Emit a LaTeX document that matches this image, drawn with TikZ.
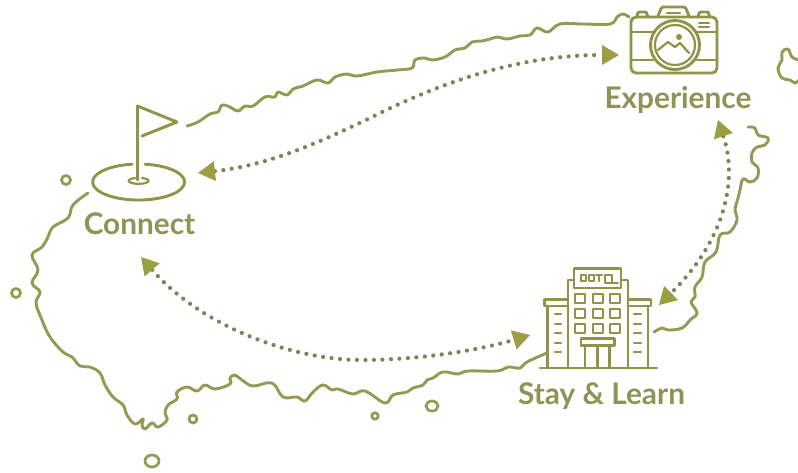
\documentclass[tikz,border=0pt]{standalone}
\usepackage{fontspec}
\setmainfont{Lato}
\usepackage{xcolor}
\usetikzlibrary{positioning, arrows.meta}
\definecolor{olive1}{HTML}{8F9448}
\definecolor{coastcol}{HTML}{959A52}
\definecolor{tipcol}{HTML}{9C9E42}
\definecolor{dotcol}{HTML}{7F8259}
\definecolor{labelcol}{HTML}{8F9456}

\begin{document}
\begin{tikzpicture}[x=1pt, y=-1pt,
        coast/.style={draw=coastcol, line width=2.9pt, line cap=round, line join=round},
        icon/.style={draw=olive1, line width=2.9pt, line cap=round, line join=round},
        thin icon/.style={draw=olive1, line width=2.2pt, line cap=round, line join=round},
        islet/.style={draw=coastcol, line width=2.7pt},
        place/.style={font=\bfseries\fontsize{29.8}{32}\selectfont, text=labelcol, inner sep=0pt},
        link/.style={draw=dotcol, line width=4.2pt, line cap=round, dash pattern=on 0pt off 8.5pt,
            {Triangle[length=17pt, width=20pt, fill=tipcol, color=tipcol, line width=0pt]}-{Triangle[length=17pt, width=20pt, fill=tipcol, color=tipcol, line width=0pt]}}]
        \useasboundingbox (0,0) rectangle (798,472);
        \fill[white] (0,0) rectangle (798,472);

        \draw[coast] plot[smooth, tension=0.65] coordinates {(187,126) (198,122) (210,114) (218,112) (222,105) (230,107) (238,111) (245,106) (253,106) (265,97) (275,97) (278,92) (287,95) (293,89) (303,86) (317,80) (328,83) (335,77) (347,74) (357,76) (377,72) (397,70) (412,68) (415,60) (425,58) (432,60) (445,57) (455,50) (465,48) (472,42) (482,41) (490,39) (498,37) (507,39) (520,36) (530,35) (537,28) (548,32) (560,24) (583,24) (610,24) (617,17) (623,14) (629,17)};
        \draw[coast] plot[smooth, tension=0.65] coordinates {(88,193) (73,205) (68,218) (53,227) (48,237) (42,247) (32,255) (38,270) (32,283) (40,292) (36,303) (42,320) (50,337) (63,352) (72,357) (80,366) (90,367) (100,373) (105,385) (113,397) (123,405) (127,415) (135,424) (143,419) (142,425) (145,429) (152,423) (158,427) (167,420) (165,413) (168,405) (177,399) (177,392) (187,387) (197,391) (205,385) (215,389) (230,384) (230,378) (235,375) (242,380) (253,386) (272,383) (283,397) (297,397) (305,401) (313,392) (323,385) (332,390) (338,389) (353,394) (365,391) (385,403) (393,395) (407,392) (413,388) (423,385) (427,380) (433,378) (443,372) (458,374) (468,371) (497,371) (508,367) (520,368) (527,362) (547,353)};
        \draw[coast] plot[smooth, tension=0.65] coordinates {(748,127) (755,128) (758,135) (768,138) (765,145) (757,147) (752,153) (752,162) (758,168) (757,178) (750,182) (743,179) (740,190) (738,198) (735,210) (737,220) (730,232) (720,235) (716,252) (705,262) (702,277) (695,287) (695,297) (691,302) (697,313) (690,320) (682,328) (668,330) (662,328) (654,332)};
        \draw[coast] plot[smooth, tension=0.65] coordinates {(799,60) (792,57) (788,49) (782,52) (782,60) (778,68) (782,78) (790,80) (795,83) (799,80)};

        \draw[islet] (66,180) circle[radius=4.5];
        \draw[islet] (16,293) circle[radius=4.5];
        \draw[islet] (193,419) circle[radius=4];
        \draw[islet] (375,416) circle[radius=3.2];
        \draw[islet] (432,406) ellipse[x radius=6, y radius=5];
        \draw[islet] (152,461) ellipse[x radius=7, y radius=6];

        \draw[icon] (137.5,180) -- (137.5,106) -- (177,122) -- (142,136);
        \draw[icon] (145,164.2) arc[start angle=82, end angle=-262, x radius=46pt, y radius=18pt];
        \draw[thin icon] (142,178) arc[start angle=70, end angle=-250, x radius=10pt, y radius=3pt];

        \draw[icon] (637,17) -- (637.5,13.5) -- (639,12) -- (646,12) -- (648,17);
        \draw[icon] (698,17) -- (699,13) -- (701,12) -- (708,12) -- (710,17);
        \draw[icon] (658,16) -- (661,8.5) -- (663,7) -- (684,7) -- (686,8.5) -- (689,16);
        \draw[thin icon] (667,13) -- (680,13);
        \draw[icon, rounded corners=5pt] (631,17) rectangle (717,73);
        \draw[icon] (631,32) -- (654,32) (696,32) -- (717,32);
        \draw[icon] (631,60) -- (653,60) (697,60) -- (717,60);
        \draw[icon] (675,45) circle[radius=24.5];
        \draw[thin icon] (675,45) circle[radius=20];
        \draw[thin icon] (658,50) -- (668,42) -- (675,47) -- (680,43) -- (689,53);
        \fill[olive1] (679,37) circle[radius=3];
        \draw[thin icon] (699,23) -- (709,23) (699,27) -- (709,27);

        \draw[icon] (540,368) -- (657,368);
        \draw[icon] (568,368) -- (568,280) -- (574,280) (621,280) -- (628,280) -- (628,368);
        \draw[icon] (574,268.5) rectangle (621,288);
        \draw[thin icon] (581,275) rectangle (586,281);
        \draw[thin icon] (589,275) rectangle (594,281);
        \draw[thin icon] (596,275) -- (602,275) (599,275) -- (599,281);
        \draw[thin icon] (605,275) rectangle (612,283) (612,283) -- (618,283);
        \foreach \colx in {575,592.7,610.3} {
            \foreach \rowy in {294.3,309,324} {
                \draw[thin icon] (\colx,\rowy) rectangle ++(10,9);
            }
        }
        \draw[icon] (581,338.3) rectangle (614.3,345.7);
        \draw[icon] (585,345.7) -- (585,368) (597.7,345.7) -- (597.7,368) (609.3,345.7) -- (609.3,368);
        \draw[icon] (568,299.3) -- (544.5,299.3) -- (544.5,306) -- (568,306) (547.7,306) -- (547.7,368);
        \draw[icon] (628,299.3) -- (651,299.3) -- (651,306) -- (628,306) (648,306) -- (648,368);
        \foreach \rowy in {314.3,324,333.3,342.7,351.7} {
            \draw[thin icon] (555,\rowy) -- (561,\rowy) (634,\rowy) -- (641,\rowy);
        }

        \node [place] (connect) at (139.5,224) {Connect};
        \node [place] (experience) at (678,100) {Experience};
        \node [place] (stay) at (601.5,396) {Stay \& Learn};

        \coordinate (connect top) at (198,173);
        \coordinate (connect low) at (141,257);
        \coordinate (experience left) at (619,55);
        \coordinate (experience low) at (718,120);
        \coordinate (stay left) at (530,335);
        \coordinate (stay right) at (659,305);

        \draw[link] (connect top) .. controls (270,165) and (320,142) .. (370,118) .. controls (430,88) and (510,55) .. (experience left);
        \draw[link] (connect low) .. controls (200,325) and (290,360) .. (362,360) .. controls (420,360) and (480,350) .. (stay left);
        \draw[link] (experience low) .. controls (738,180) and (725,240) .. (stay right);
    \end{tikzpicture}
\end{document}
